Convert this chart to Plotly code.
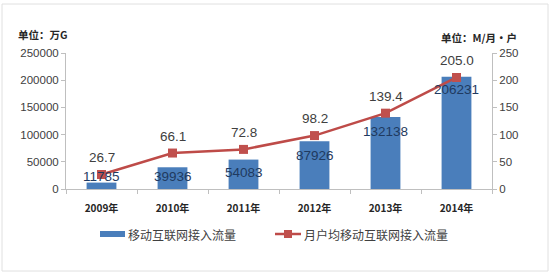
import plotly.graph_objects as go

years = ["2009年", "2010年", "2011年", "2012年", "2013年", "2014年"]
traffic = [11785, 39936, 54083, 87926, 132138, 206231]
per_user = [26.7, 66.1, 72.8, 98.2, 139.4, 205.0]
per_user_labels = ["26.7", "66.1", "72.8", "98.2", "139.4", "205.0"]
left_ticks = [0, 50000, 100000, 150000, 200000, 250000]
left_tick_text = ["0", "50000", "100000", "150000", "200000", "250000"]
right_ticks = [0, 50, 100, 150, 200, 250]
series_names = ["移动互联网接入流量", "月户均移动互联网接入流量"]

# styling offsets for bar value labels (pixels)
bar_label_shift = [6, -9, -13, -14, -14, -13]

W, H = 550, 274
L, R, T, B = 66, 58, 53, 85
pw, ph = W - L - R, H - T - B

BLUE = "#4A7EBB"
RED = "#BE4B48"
CJK = "Noto Sans CJK SC"
LAT = "Liberation Sans"
NARROW = "Liberation Sans Narrow, Liberation Sans"


def px(xp):
    return (xp - L) / pw


def py(yp):
    return (H - B - yp) / ph


fig = go.Figure()
fig.add_trace(go.Bar(
    x=years, y=traffic, name=series_names[0],
    marker=dict(color=BLUE, line=dict(width=0)), width=0.42,
    yaxis="y"))
fig.add_trace(go.Scatter(
    x=years, y=per_user, name=series_names[1],
    mode="lines+markers", line=dict(color=RED, width=2.5),
    marker=dict(symbol="square", size=9, color="#C0504D"),
    yaxis="y2"))

ann = []
for xv, v, s in zip(years, traffic, bar_label_shift):
    ann.append(dict(x=xv, y=v, xref="x", yref="y", text=str(v), showarrow=False,
                    yshift=s, font=dict(family=NARROW, size=13.5, color="#1F3A60")))
for xv, v, t in zip(years, per_user, per_user_labels):
    ann.append(dict(x=xv, y=v, xref="x", yref="y2", text=t, showarrow=False,
                    yshift=17, font=dict(family=NARROW, size=13.5, color="#404040")))
ann.append(dict(x=px(16), y=py(34), xref="paper", yref="paper",
                xanchor="left", yanchor="middle", text="<b>单位：万G</b>", showarrow=False,
                font=dict(family=CJK, size=10.5, color="#262626")))
ann.append(dict(x=px(519), y=py(37), xref="paper", yref="paper",
                xanchor="right", yanchor="middle", text="<b>单位：M/月·户</b>", showarrow=False,
                font=dict(family=CJK, size=10.5, color="#262626")))
# custom legend text
ann.append(dict(x=px(126), y=py(234), xref="paper", yref="paper", xanchor="left",
                yanchor="middle", text=series_names[0], showarrow=False,
                font=dict(family=CJK, size=12, color="#404040")))
ann.append(dict(x=px(302), y=py(234), xref="paper", yref="paper", xanchor="left",
                yanchor="middle", text=series_names[1], showarrow=False,
                font=dict(family=CJK, size=12, color="#404040")))

shapes = [
    dict(type="rect", xref="paper", yref="paper", x0=px(2), x1=px(548),
         y0=py(271), y1=py(4), line=dict(color="#E0E0E0", width=1),
         fillcolor="rgba(0,0,0,0)", layer="below"),
    dict(type="rect", xref="paper", yref="paper", x0=px(100), x1=px(125),
         y0=py(237), y1=py(231), line=dict(width=0), fillcolor=BLUE),
    dict(type="line", xref="paper", yref="paper", x0=px(275), x1=px(301),
         y0=py(234), y1=py(234), line=dict(color=RED, width=2.5)),
    dict(type="rect", xref="paper", yref="paper", x0=px(284), x1=px(292),
         y0=py(238), y1=py(230), line=dict(width=0), fillcolor="#C0504D"),
]

fig.update_layout(
    width=W, height=H, margin=dict(l=L, r=R, t=T, b=B),
    paper_bgcolor="white", plot_bgcolor="white",
    showlegend=False,
    xaxis=dict(type="category", showline=True, linecolor="#BFBFBF", linewidth=1,
               ticks="outside", tickson="boundaries", ticklen=4, tickcolor="#BFBFBF",
               tickfont=dict(family=CJK, size=10, color="#262626"),
               tickprefix="<b>", ticksuffix="</b>", range=[-0.5, 5.5],
               ticklabelstandoff=10),
    yaxis=dict(range=[0, 250000], tickvals=left_ticks, ticktext=left_tick_text,
               showgrid=False, showline=True,
               linecolor="#BFBFBF", ticks="outside", ticklen=4, tickcolor="#BFBFBF",
               tickfont=dict(family=LAT, size=11.5, color="#404040"), zeroline=False),
    yaxis2=dict(range=[0, 250], tickvals=right_ticks, overlaying="y", side="right",
                showgrid=False, showline=True, linecolor="#BFBFBF", ticks="outside",
                ticklen=4, tickcolor="#BFBFBF",
                tickfont=dict(family=LAT, size=11.5, color="#404040"), zeroline=False),
    annotations=ann,
    shapes=shapes,
)

fig.write_html("out.html")
